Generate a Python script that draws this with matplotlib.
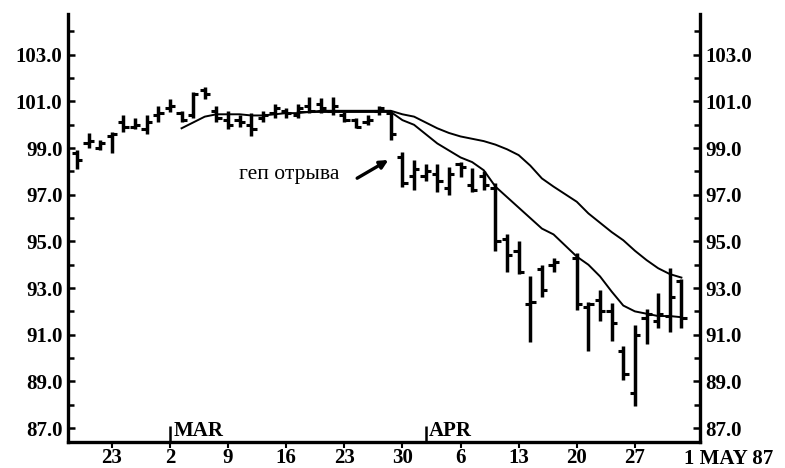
import matplotlib.pyplot as plt
import numpy as np

# daily bars, index 0 = 18 Feb 1987 (slot 42 = Good Friday, no trading)
day_idx = [0, 1, 2, 3, 4, 5, 6, 7, 8, 9, 10, 11, 12, 13, 14, 15, 16, 17, 18, 19,
           20, 21, 22, 23, 24, 25, 26, 27, 28, 29, 30, 31, 32, 33, 34, 35, 36, 37, 38, 39,
           40, 41, 43, 44, 45, 46, 47, 48, 49, 50, 51, 52]
highs = [98.9, 99.65, 99.35, 99.7, 100.4, 100.3, 100.4, 100.8, 101.1, 100.6,
         101.4, 101.6, 100.8, 100.6, 100.4, 100.5, 100.6, 100.9, 100.7, 100.9,
         101.2, 101.15, 101.2, 100.55, 100.3, 100.4, 100.8, 100.55, 98.85, 98.5,
         98.3, 98.3, 98.2, 98.4, 98.15, 98.0, 97.5, 95.3, 95.0, 93.5,
         94.0, 94.3, 94.5, 92.4, 92.9, 92.35, 90.5, 91.4, 92.1, 92.8,
         93.85, 93.4]
lows = [98.1, 99.0, 98.9, 98.8, 99.7, 99.8, 99.6, 100.1, 100.55, 100.1,
        100.3, 101.1, 100.1, 99.8, 99.9, 99.5, 100.1, 100.3, 100.3, 100.3,
        100.5, 100.5, 100.4, 100.1, 99.85, 100.0, 100.4, 99.35, 97.35, 97.2,
        97.6, 97.1, 97.0, 97.75, 97.1, 97.2, 94.6, 93.7, 93.6, 90.7,
        92.6, 93.7, 92.05, 90.3, 91.6, 90.75, 89.05, 87.95, 90.6, 91.3,
        91.1, 91.3]
opens = [98.8, 99.2, 99.0, 99.5, 100.1, 99.9, 99.8, 100.4, 100.7, 100.5,
         100.4, 101.5, 100.6, 100.2, 100.2, 100.0, 100.3, 100.5, 100.6, 100.4,
         100.8, 100.9, 100.6, 100.4, 100.2, 100.1, 100.6, 100.5, 98.6, 97.8,
         97.8, 97.9, 97.3, 98.3, 97.4, 97.8, 97.3, 95.1, 94.6, 92.3,
         93.8, 94.0, 94.3, 92.2, 92.5, 92.0, 90.3, 88.5, 91.7, 91.6,
         91.8, 93.3]
closes = [98.5, 99.3, 99.2, 99.6, 99.9, 100.0, 100.1, 100.5, 100.8, 100.2,
          101.3, 101.3, 100.3, 100.0, 100.1, 99.8, 100.4, 100.7, 100.5, 100.7,
          100.6, 100.7, 100.8, 100.2, 99.9, 100.2, 100.7, 99.6, 97.5, 98.1,
          98.0, 97.6, 97.9, 98.2, 97.2, 97.4, 95.0, 94.4, 93.7, 92.4,
          92.9, 94.1, 92.3, 92.3, 92.0, 91.5, 89.3, 91.0, 91.9, 91.9,
          92.6, 91.7]

# moving averages
fast_idx = [9, 10, 11, 12, 13, 14, 15, 16, 17, 18, 19, 20, 21, 22, 23, 24, 25, 26, 27,
            28, 29, 30, 31, 32, 33, 34, 35, 36, 37, 38, 39, 40, 41, 43, 44, 45, 46, 47,
            48, 49, 50, 51, 52]
fast_ma = [99.85, 100.1, 100.35, 100.45, 100.45, 100.45, 100.4, 100.4, 100.45, 100.5,
           100.5, 100.55, 100.55, 100.55, 100.55, 100.55, 100.55, 100.55, 100.55,
           100.2, 100.0, 99.6, 99.2, 98.9, 98.6, 98.4, 98.05, 97.35, 96.9, 96.45,
           96.0, 95.55, 95.3, 94.35, 94.0, 93.5, 92.85, 92.25, 92.0, 91.9, 91.8,
           91.8, 91.75]
slow_idx = [19, 20, 21, 22, 23, 24, 25, 26, 27, 28, 29, 30, 31, 32, 33, 34, 35, 36, 37,
            38, 39, 40, 41, 43, 44, 45, 46, 47, 48, 49, 50, 51, 52]
slow_ma = [100.55, 100.55, 100.6, 100.6, 100.6, 100.6, 100.6, 100.6, 100.6,
           100.45, 100.35, 100.1, 99.85, 99.65, 99.5, 99.4, 99.3, 99.15, 98.95,
           98.7, 98.25, 97.7, 97.35, 96.7, 96.2, 95.8, 95.4, 95.05, 94.6, 94.2,
           93.85, 93.6, 93.45]

week_ticks = [3, 8, 13, 18, 23, 28, 33, 38, 43, 48]
week_labels = ['23', '2', '9', '16', '23', '30', '6', '13', '20', '27']
month_idx = [8, 30]
month_names = ['MAR', 'APR']
y_ticks = [87.0, 89.0, 91.0, 93.0, 95.0, 97.0, 99.0, 101.0, 103.0]

serif = ['Liberation Serif', 'DejaVu Serif']
lbl_size = 15

fig = plt.figure(figsize=(7.85, 4.68), dpi=100)
ax = fig.add_axes([68 / 785, 26 / 468, 632 / 785, 428 / 468])

# OHLC bars
ax.vlines(day_idx, lows, highs, color='black', lw=2.5)
tick_w = 0.45
ax.hlines(opens, np.array(day_idx) - tick_w, day_idx, color='black', lw=2.2)
ax.hlines(closes, day_idx, np.array(day_idx) + tick_w, color='black', lw=2.2)

ax.plot(fast_idx, fast_ma, color='black', lw=1.4)
ax.plot(slow_idx, slow_ma, color='black', lw=1.4)

ax.set_xlim(-0.77, 53.6)
ax.set_ylim(86.4, 104.75)

ax.spines['top'].set_visible(False)
for side in ['left', 'right', 'bottom']:
    ax.spines[side].set_linewidth(2.4)

ax.set_yticks(y_ticks)
ax.set_yticklabels(['%.1f' % v for v in y_ticks])
ax.set_yticks(np.arange(87, 105, 1.0), minor=True)
ax.tick_params(axis='y', which='both', direction='in', left=True, right=True,
               labelleft=True, labelright=True, width=1.8, pad=4)
ax.tick_params(axis='y', which='major', length=5)
ax.tick_params(axis='y', which='minor', length=4)
ax.set_xticks(week_ticks)
ax.set_xticklabels(week_labels)
ax.tick_params(axis='x', direction='out', length=4, width=1.5, pad=0)
for lab in ax.get_xticklabels() + ax.get_yticklabels():
    lab.set_fontfamily(serif)
    lab.set_fontweight('bold')
    lab.set_fontsize(lbl_size)

ax.text(52.2, 86.4 - 0.3, '1 MAY 87', ha='left', va='top', fontsize=lbl_size,
        fontweight='bold', family=serif, clip_on=False)

# month markers
for m, name in zip(month_idx, month_names):
    ax.vlines(m, 86.4, 87.1, color='black', lw=1.8)
    ax.text(m + 0.3, 86.45, name, ha='left', va='bottom', fontsize=lbl_size,
            fontweight='bold', family=serif)

ax.annotate('', xy=(27.0, 98.55), xytext=(23.9, 97.65),
            arrowprops=dict(arrowstyle='-|>', color='black', lw=2.4,
                            mutation_scale=12))
ax.text(18.3, 97.85, 'геп отрыва', ha='center', va='center', fontsize=15.5,
        family=serif)

fig.savefig('out.png', dpi=100)
